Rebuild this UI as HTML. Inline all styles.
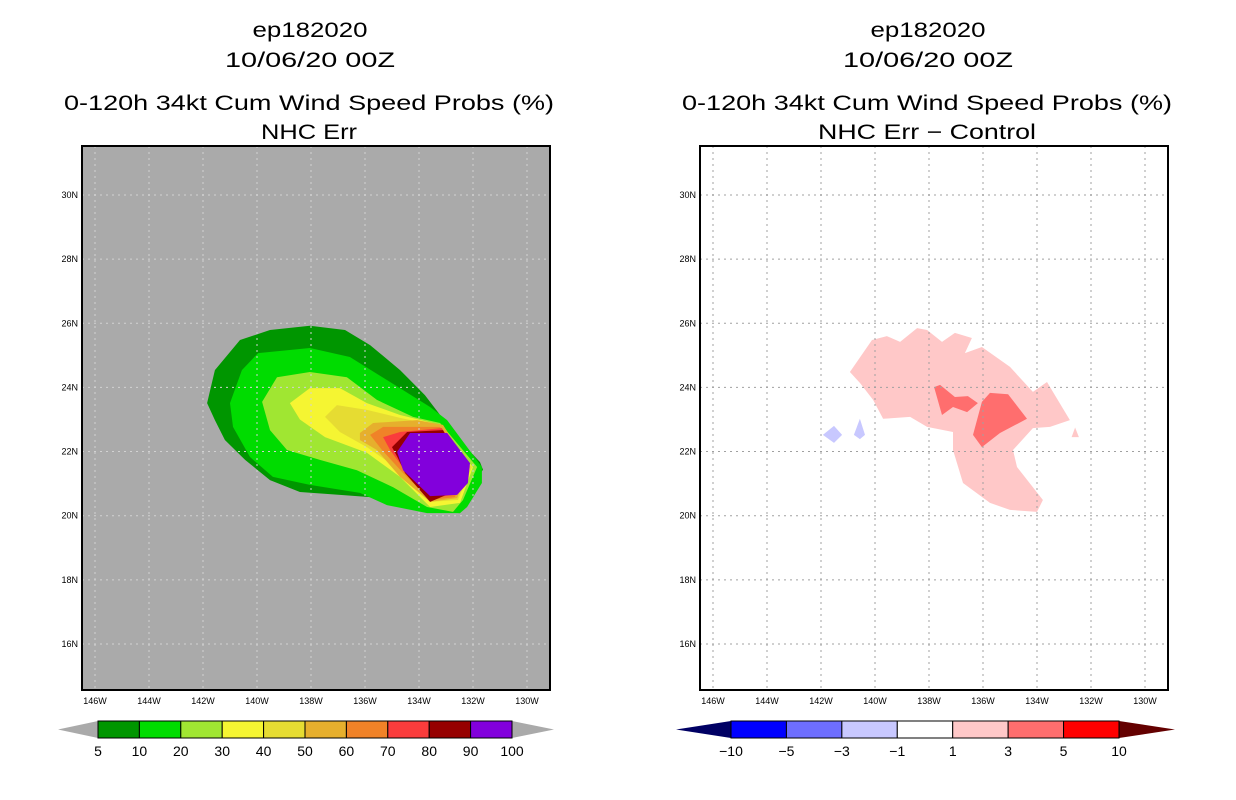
<!DOCTYPE html>
<html><head><meta charset="utf-8">
<style>
html,body{margin:0;padding:0;background:#fff;}
svg{display:block;}
text{font-family:"Liberation Sans",sans-serif;fill:#000;}
.ttl{font-size:21px;}
.tk{font-size:9px;}
.cb{font-size:14px;}
</style></head>
<body>
<svg id="chart" width="1236" height="800" viewBox="0 0 1236 800" xmlns="http://www.w3.org/2000/svg">
  <rect x="0" y="0" width="1236" height="800" fill="#fff"/>
  <g>
    <text class="ttl" x="310" y="37" text-anchor="middle" textLength="115" lengthAdjust="spacingAndGlyphs">ep182020</text>
    <text class="ttl" x="310" y="67" text-anchor="middle" textLength="170" lengthAdjust="spacingAndGlyphs">10/06/20 00Z</text>
    <text class="ttl" x="309" y="110" text-anchor="middle" textLength="490" lengthAdjust="spacingAndGlyphs">0-120h 34kt Cum Wind Speed Probs (%)</text>
    <text class="ttl" x="309" y="139" text-anchor="middle" textLength="96" lengthAdjust="spacingAndGlyphs">NHC Err</text>
  </g>
  <g>
    <text class="ttl" x="928" y="37" text-anchor="middle" textLength="115" lengthAdjust="spacingAndGlyphs">ep182020</text>
    <text class="ttl" x="928" y="67" text-anchor="middle" textLength="170" lengthAdjust="spacingAndGlyphs">10/06/20 00Z</text>
    <text class="ttl" x="927" y="110" text-anchor="middle" textLength="490" lengthAdjust="spacingAndGlyphs">0-120h 34kt Cum Wind Speed Probs (%)</text>
    <text class="ttl" x="927" y="139" text-anchor="middle" textLength="218" lengthAdjust="spacingAndGlyphs">NHC Err − Control</text>
  </g>
  <g id="left"></g>
  <g id="right"></g>
  <g id="cbl"></g>
  <g id="cbr"></g>
</svg>
<script>
// ---- axis data ----
const lonTicks = [146,144,142,140,138,136,134,132,130];
const latTicks = [30,28,26,24,22,20,18,16];

// ---- left panel: cumulative probability contours (lon W, lat N) ----
const probLevels = [5,10,20,30,40,50,60,70,80,90];
const probColors = ["#009600","#00dc00","#a0e632","#f5f532","#e6dc32","#e6af2d","#f08228","#fa3c3c","#960000","#8200dc"];
const p5  = [[141.85,23.51],[141.56,24.54],[140.63,25.48],[139.52,25.79],[138.04,25.92],[136.74,25.79],[135.81,25.32],[134.70,24.54],[133.78,23.76],[133.22,23.14],[132.85,22.67],[131.74,21.67],[131.63,21.43],[132.11,20.89],[132.48,20.08],[133.59,20.12],[134.70,20.33],[135.81,20.58],[136.93,20.65],[138.41,20.74],[139.52,21.11],[140.44,21.74],[141.19,22.36],[141.56,22.98]];
const p10 = [[141.0,23.51],[140.56,24.54],[139.96,25.07],[138.04,25.23],[136.56,24.95],[135.19,24.23],[133.59,23.39],[132.96,22.98],[131.67,21.52],[131.67,21.02],[132.22,20.27],[132.48,20.08],[133.70,20.08],[135.19,20.33],[136.19,20.71],[138.04,20.96],[139.41,21.21],[140.26,21.83],[140.89,22.77]];
const p20 = [[139.81,23.55],[139.26,24.32],[138.04,24.48],[136.67,24.32],[135.56,23.61],[134.22,23.08],[133.22,22.89],[131.85,21.52],[132.37,20.49],[132.74,20.12],[133.70,20.27],[134.96,20.89],[136.30,21.42],[137.67,21.74],[138.89,22.05],[139.52,22.67]];
const p30 = [[138.78,23.51],[138.04,23.98],[136.93,23.98],[135.93,23.51],[134.70,23.14],[133.48,22.89],[132.0,21.52],[132.48,20.40],[133.59,20.27],[134.70,21.21],[135.93,21.96],[137.48,22.45],[138.41,23.0]];
const p40 = [[137.48,23.08],[137.04,23.45],[135.93,23.30],[134.70,23.05],[133.48,22.83],[132.04,21.52],[132.56,20.49],[133.59,20.43],[134.70,21.42],[135.93,22.14],[136.93,22.61]];
const p50 = [[136.19,22.58],[135.70,22.89],[134.07,22.98],[133.11,22.83],[132.11,21.52],[132.59,20.55],[133.59,20.43],[134.70,21.21],[135.56,22.05],[136.19,22.36]];
const p60 = [[135.81,22.52],[135.33,22.77],[133.22,22.77],[132.19,21.52],[132.67,20.58],[133.59,20.49],[134.59,21.33],[135.37,22.05]];
const p70 = [[135.33,22.45],[134.70,22.61],[133.15,22.73],[132.30,21.52],[132.74,20.65],[133.59,20.55],[134.52,21.42],[135.07,22.05]];
const p80 = [[135.0,22.14],[134.44,22.61],[133.11,22.67],[132.30,21.52],[132.56,20.80],[133.59,20.43],[134.52,21.33],[134.78,21.80]];
const p90 = [[134.81,21.99],[134.33,22.58],[132.96,22.58],[132.11,21.64],[132.19,21.02],[132.59,20.65],[133.59,20.61],[134.59,21.42]];
const probPolys = [p5,p10,p20,p30,p40,p50,p60,p70,p80,p90];

// ---- right panel: difference contours ----
const diffLabels = ["-10","-5","-3","-1","1","3","5","10"];
const diffColors = ["#000064","#0000ff","#6e6eff","#c8c8ff","#ffffff","#ffc8c8","#ff6e6e","#ff0000","#640000"];
const dPink = [[140.93,24.48],[140.11,25.48],[139.56,25.60],[139.07,25.42],[138.44,25.85],[138.07,25.79],[137.52,25.42],[137.04,25.70],[136.41,25.54],[136.67,25.07],[136.04,25.26],[135.0,24.64],[134.15,23.86],[133.63,24.17],[132.78,22.98],[133.52,22.77],[134.15,22.73],[134.89,22.05],[134.74,21.52],[133.78,20.49],[134.0,20.12],[135.0,20.18],[135.74,20.40],[136.74,21.02],[137.11,22.05],[137.11,22.61],[138.07,22.77],[138.70,23.08],[139.70,23.02],[140.07,23.61],[140.56,24.14]];
const dPinkSmall = [[132.59,22.75],[132.45,22.45],[132.72,22.45]];
const dRed1 = [[137.81,24.01],[137.59,24.08],[137.04,23.70],[136.56,23.73],[136.19,23.51],[136.59,23.23],[137.11,23.39],[137.52,23.14]];
const dRed2 = [[136.04,23.55],[135.74,23.83],[135.07,23.79],[134.37,23.02],[135.37,22.58],[136.04,22.14],[136.37,22.52]];
const dBlue1 = [[141.93,22.52],[141.52,22.80],[141.22,22.52],[141.52,22.27]];
const dBlue2 = [[140.56,23.02],[140.37,22.52],[140.56,22.39],[140.78,22.52]];
const diffPolys = [dPink,dPinkSmall,dRed1,dRed2,dBlue1,dBlue2];
const diffPolyColors = ["#ffc8c8","#ffc8c8","#ff6e6e","#ff6e6e","#c8c8ff","#c8c8ff"];

const NS = "http://www.w3.org/2000/svg";
const PY0 = 146, PY1 = 690, PW = 468;
function xs(ox){ return lon => ox + 13 + (146 - lon) * 27; }
function ys(lat){ return 195 + (30 - lat) * 32.07; }
function mk(tag, attrs, parent){
  const e = document.createElementNS(NS, tag);
  for (const k in attrs) e.setAttribute(k, attrs[k]);
  parent.appendChild(e); return e;
}
function polyStr(pts, xf){ return pts.map(p => xf(p[0]).toFixed(1)+","+ys(p[1]).toFixed(1)).join(" "); }

function panel(gid, ox, bg, gridColor, polys, colors, names){
  const g = document.getElementById(gid);
  const xf = xs(ox);
  const clipId = gid+"clip";
  const cp = mk("clipPath", {id: clipId}, g);
  mk("rect", {x: ox, y: PY0, width: PW, height: PY1-PY0}, cp);
  const bgR = mk("rect", {x: ox, y: PY0, width: PW, height: PY1-PY0, fill: bg}, g);
  
  
  const cg = mk("g", {"clip-path": "url(#"+clipId+")"}, g);
  
  
  polys.forEach((p, i) => {
    const e = mk("polygon", {points: polyStr(p, xf), fill: colors[i]}, cg);
    
    
  });
  const gg = mk("g", {stroke: gridColor, "stroke-width": 1, "stroke-dasharray": "2,4", fill: "none"}, g);
  
  
  lonTicks.forEach(l => {
    const e = mk("line", {x1: xf(l), x2: xf(l), y1: PY0, y2: PY1}, gg);
    
    
  });
  latTicks.forEach(l => {
    const e = mk("line", {x1: ox, x2: ox+PW, y1: ys(l), y2: ys(l)}, gg);
    
    
  });
  const fr = mk("rect", {x: ox, y: PY0, width: PW, height: PY1-PY0, fill: "none", stroke: "#000", "stroke-width": 2}, g);
  
  
  lonTicks.forEach(l => {
    const t = mk("text", {x: xf(l), y: 704, "text-anchor": "middle", class: "tk"}, g);
    t.textContent = l+"W";
    
    
  });
  latTicks.forEach(l => {
    const t = mk("text", {x: ox-4, y: ys(l)+3, "text-anchor": "end", class: "tk"}, g);
    t.textContent = l+"N";
    
    
  });
}
panel("left", 82, "#aaaaaa", "#d2d2d2", probPolys, probColors, probLevels.map(v => "prob-contour-"+v));
panel("right", 700, "#ffffff", "#a0a0a0", diffPolys, diffPolyColors, ["diff-pink-main","diff-pink-small","diff-red-west","diff-red-east","diff-blue-west","diff-blue-east"]);

function colorbar(gid, x0, x1, tipL, tipR, fills, leftTip, rightTip, labels, labelAtStart){
  const g = document.getElementById(gid);
  const y0 = 721, y1 = 738, ym = (y0+y1)/2;
  const n = fills.length, w = (x1-x0)/n;
  const lt = mk("polygon", {points: `${tipL},${ym} ${x0},${y0} ${x0},${y1}`, fill: leftTip}, g);
  
  
  const rt = mk("polygon", {points: `${tipR},${ym} ${x1},${y0} ${x1},${y1}`, fill: rightTip}, g);
  
  
  fills.forEach((c, i) => {
    const r = mk("rect", {x: x0+i*w, y: y0, width: w, height: y1-y0, fill: c, stroke: "#000", "stroke-width": 1}, g);
    
    
  });
  labels.forEach((s, i) => {
    const t = mk("text", {x: x0 + i*w, y: 756, "text-anchor": "middle", class: "cb"}, g);
    t.textContent = s.replace("-", "−");
    
    
  });
}
colorbar("cbl", 98, 512, 58, 554, probColors, "#aaaaaa", "#aaaaaa", probLevels.map(String).concat(["100"]));
colorbar("cbr", 731, 1119, 676, 1175, diffColors.slice(1, 8), diffColors[0], diffColors[8], diffLabels);
</script>
</body></html>
